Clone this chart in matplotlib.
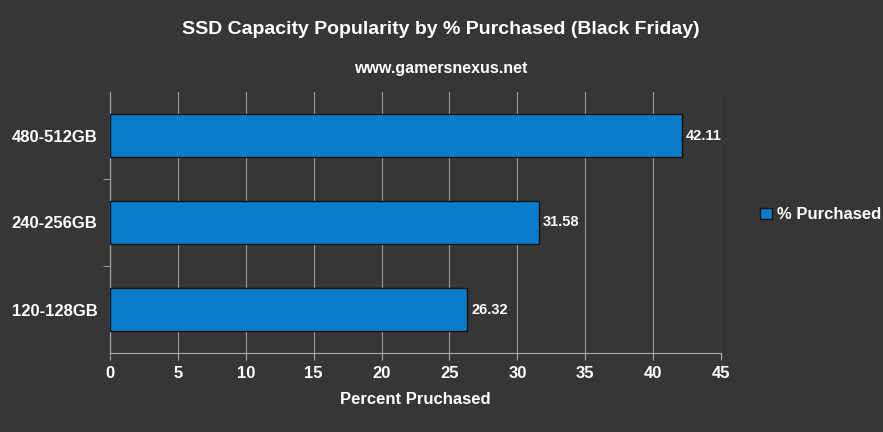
import matplotlib
matplotlib.use("Agg")
import matplotlib.pyplot as plt
from matplotlib.patches import Patch

plt.rcParams["font.family"] = ["Liberation Sans", "DejaVu Sans"]

categories = ["120-128GB", "240-256GB", "480-512GB"]
values = [26.32, 31.58, 42.11]
xticks = [0, 5, 10, 15, 20, 25, 30, 35, 40, 45]

bg = "#363636"
fig = plt.figure(figsize=(8.83, 4.32), dpi=100, facecolor=bg)
ax = fig.add_axes([110/883, 1-353/432, 611/883, 261/432], facecolor=bg)

ys = range(len(categories))
ax.barh(ys, values, height=0.5, color="#0a7ccc", edgecolor="#111111", linewidth=1, zorder=3)
for y, v in zip(ys, values):
    ax.text(v + 0.3, y, f"{v:.2f}", color="white", fontweight="bold", fontsize=10.5, va="center", ha="left")

ax.set_xlim(0, 45)
ax.set_ylim(-0.5, 2.5)
ax.set_xticks(xticks)
ax.set_xticklabels([str(t) for t in xticks], color="white", fontsize=12, fontweight="bold")
ax.set_yticks(list(ys))
ax.set_yticklabels(categories, color="white", fontsize=12, fontweight="bold")
ax.tick_params(axis="y", length=0, pad=9)
ax.set_yticks([0.5, 1.5], minor=True)
ax.tick_params(axis="y", which="minor", length=5, color="#aaaaaa")
ax.tick_params(axis="x", length=5, color="#aaaaaa", pad=4)
ax.grid(axis="x", color="#999999", linewidth=0.8, zorder=0)
for s in ["top", "right"]:
    ax.spines[s].set_visible(False)
for s in ["left", "bottom"]:
    ax.spines[s].set_color("#aaaaaa")
ax.set_xlabel("Percent Pruchased", color="white", fontsize=12, fontweight="bold", labelpad=8)

fig.text(441/883, 1-30/432, "SSD Capacity Popularity by % Purchased (Black Friday)", color="white",
         fontsize=14, fontweight="bold", ha="center", va="center")
fig.text(441/883, 1-68/432, "www.gamersnexus.net", color="white", fontsize=11.5, fontweight="bold",
         ha="center", va="center")
fig.legend(handles=[Patch(facecolor="#0a7ccc", edgecolor="#111111", label="% Purchased")],
           loc="center left", bbox_to_anchor=(745/883, 1-215/432), frameon=False,
           labelcolor="white", prop={"weight": "bold", "size": 12}, handlelength=0.7,
           handleheight=0.7, handletextpad=0.3)
fig.savefig("out.png", dpi=100, facecolor=bg)
